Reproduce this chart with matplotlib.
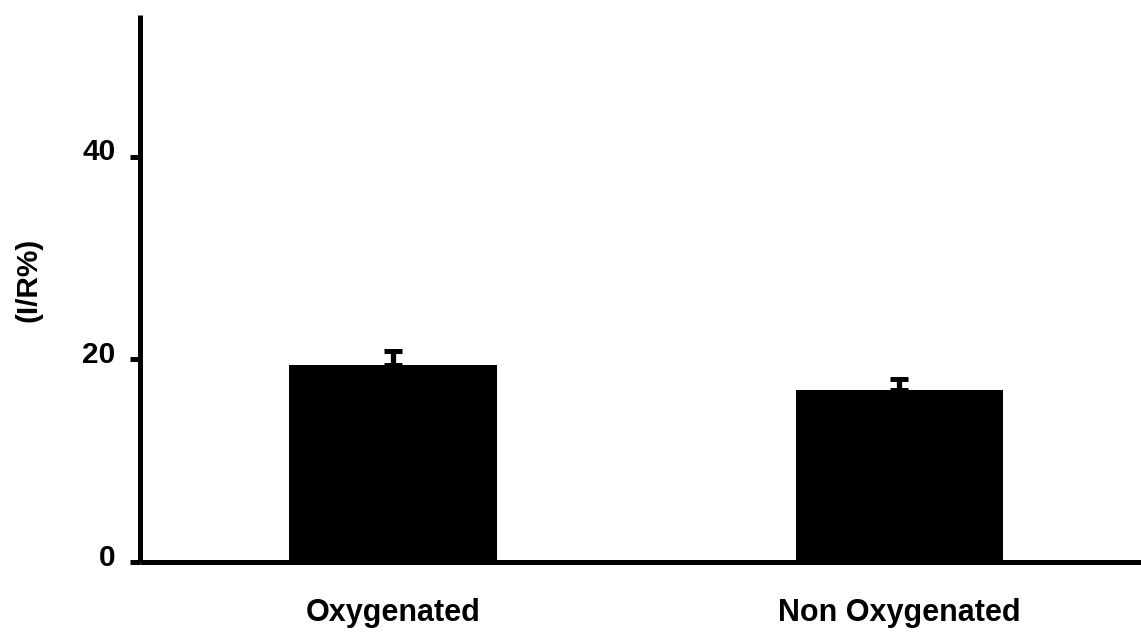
import matplotlib
matplotlib.use("Agg")
import matplotlib.pyplot as plt
import matplotlib.transforms as mtransforms

groups = ["Oxygenated", "Non Oxygenated"]
ratio_pct = [19.4, 17.0]
ratio_err = [1.45, 1.1]
y_ticks = [0, 20, 40]

plt.rcParams["font.family"] = ["Liberation Sans", "DejaVu Sans"]
plt.rcParams["font.weight"] = "bold"

fig = plt.figure(figsize=(11.41, 6.35), dpi=100)
ax_w = 1.0 - 140 / 1141 + 0.01
ax = fig.add_axes([140 / 1141, 73 / 635, ax_w, 547 / 635])

x = list(range(len(groups)))
ax.bar(x, ratio_pct, width=0.41, color="black", zorder=2)
ax.errorbar(x, ratio_pct, yerr=[[0] * len(ratio_err), ratio_err], fmt="none",
            ecolor="black", elinewidth=3.8, capsize=6.2, capthick=3.6, zorder=3)

ax.set_xlim(-0.5, 1.5)
ax.set_ylim(0, 54)
ax.set_yticks(y_ticks)
ax.set_yticklabels([str(t) for t in y_ticks], fontsize=21.5, fontweight="bold")
ax.set_xticks(x)
ax.set_xticklabels(groups, fontsize=22, fontweight="bold")

for side in ("top", "right"):
    ax.spines[side].set_visible(False)
for side in ("left", "bottom"):
    ax.spines[side].set_linewidth(3.6)
    ax.spines[side].set_capstyle("butt")

ax.tick_params(axis="y", direction="out", length=7, width=3.6, pad=10.5)
ax.tick_params(axis="x", length=0, pad=26)

# y tick numbers sit a little above their tick marks
lift = mtransforms.ScaledTranslation(0, 7.5 / 100, fig.dpi_scale_trans)
for lbl in ax.get_yticklabels():
    lbl.set_transform(lbl.get_transform() + lift)

ax.set_ylabel("(I/R%)", fontsize=21.5, fontweight="bold")
ax.yaxis.set_label_coords((43 - 140) / (ax_w * 1141), (562 - 280) / 547)

fig.savefig("out.png", dpi=100)
